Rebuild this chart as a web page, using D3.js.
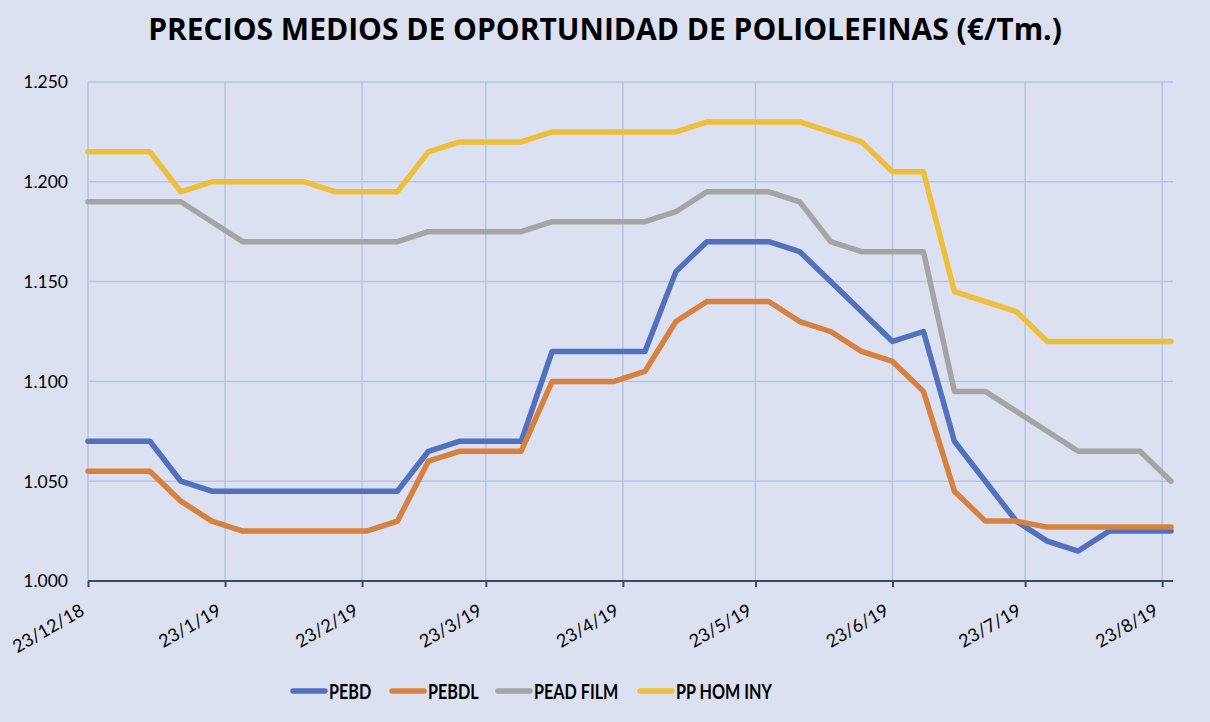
<!DOCTYPE html>
<html lang="es">
<head>
<meta charset="UTF-8">
<title>Precios medios de oportunidad de poliolefinas</title>
<script src="https://d3js.org/d3.v7.min.js"></script>
<style>
  html, body { margin: 0; padding: 0; background: #dce1f1; }
  svg { display: block; }
  text { font-family: Lato, "Open Sans", sans-serif; fill: #000; }
</style>
</head>
<body>
<svg id="chart" width="1210" height="722"></svg>
<script>
// weekly dates (dd/mm/yyyy)
const dates = [
  "23/12/2018", "30/12/2018", "06/01/2019", "13/01/2019", "20/01/2019", "27/01/2019",
  "03/02/2019", "10/02/2019", "17/02/2019", "24/02/2019", "03/03/2019", "10/03/2019",
  "17/03/2019", "24/03/2019", "31/03/2019", "07/04/2019", "14/04/2019", "21/04/2019",
  "28/04/2019", "05/05/2019", "12/05/2019", "19/05/2019", "26/05/2019", "02/06/2019",
  "09/06/2019", "16/06/2019", "23/06/2019", "30/06/2019", "07/07/2019", "14/07/2019",
  "21/07/2019", "28/07/2019", "04/08/2019", "11/08/2019", "18/08/2019", "25/08/2019"
];

const pebd = [
  1070, 1070, 1070, 1050, 1045, 1045, 1045, 1045, 1045, 1045, 1045, 1065,
  1070, 1070, 1070, 1115, 1115, 1115, 1115, 1155, 1170, 1170, 1170, 1165,
  1150, 1135, 1120, 1125, 1070, 1050, 1030, 1020, 1015, 1025, 1025, 1025
];
const pebdl = [
  1055, 1055, 1055, 1040, 1030, 1025, 1025, 1025, 1025, 1025, 1030, 1060,
  1065, 1065, 1065, 1100, 1100, 1100, 1105, 1130, 1140, 1140, 1140, 1130,
  1125, 1115, 1110, 1095, 1045, 1030, 1030, 1027, 1027, 1027, 1027, 1027
];
const peadFilm = [
  1190, 1190, 1190, 1190, 1180, 1170, 1170, 1170, 1170, 1170, 1170, 1175,
  1175, 1175, 1175, 1180, 1180, 1180, 1180, 1185, 1195, 1195, 1195, 1190,
  1170, 1165, 1165, 1165, 1095, 1095, 1085, 1075, 1065, 1065, 1065, 1050
];
const ppHomIny = [
  1215, 1215, 1215, 1195, 1200, 1200, 1200, 1200, 1195, 1195, 1195, 1215,
  1220, 1220, 1220, 1225, 1225, 1225, 1225, 1225, 1230, 1230, 1230, 1230,
  1225, 1220, 1205, 1205, 1145, 1140, 1135, 1120, 1120, 1120, 1120, 1120
];

const seriesNames = ["PEBD", "PEBDL", "PEAD FILM", "PP HOM INY"];
const seriesValues = [pebd, pebdl, peadFilm, ppHomIny];
const colors = ["#5171bf", "#d8813f", "#a5a5a5", "#eebf3b"];

const yTicks = [1000, 1050, 1100, 1150, 1200, 1250];
const xTickDates = ["23/12/2018", "23/01/2019", "23/02/2019", "23/03/2019", "23/04/2019",
  "23/05/2019", "23/06/2019", "23/07/2019", "23/08/2019"];

const title = "PRECIOS MEDIOS DE OPORTUNIDAD DE POLIOLEFINAS (€/Tm.)";

const parse = d3.timeParse("%d/%m/%Y");
const fmtX = d3.timeFormat("%-d/%-m/%y");
const fmtY = d3.format(".3f");

const svg = d3.select("#chart");
const margin = {top: 82, right: 39, bottom: 141, left: 88};
const W = +svg.attr("width"), H = +svg.attr("height");

const xDates = dates.map(parse);
const x = d3.scaleTime()
  .domain(d3.extent(xDates))
  .range([margin.left, W - margin.right]);
const y = d3.scaleLinear()
  .domain([1000, 1250])
  .range([H - margin.bottom, margin.top]);

svg.append("rect").attr("width", W).attr("height", H).attr("fill", "#dce1f1");

// horizontal grid
svg.append("g")
  .selectAll("line")
  .data(yTicks.slice(1))
  .join("line")
  .attr("x1", margin.left).attr("x2", W - margin.right + 2)
  .attr("y1", d => y(d)).attr("y2", d => y(d))
  .attr("stroke", "#b4c5e6").attr("stroke-width", 1.5);

// vertical grid
const tickDates = xTickDates.map(parse);
svg.append("g")
  .selectAll("line")
  .data(tickDates)
  .join("line")
  .attr("x1", d => x(d)).attr("x2", d => x(d))
  .attr("y1", margin.top).attr("y2", y(1000))
  .attr("stroke", "#b4c5e6").attr("stroke-width", 1.5);

// y labels
svg.append("g")
  .selectAll("text")
  .data(yTicks)
  .join("text")
  .attr("x", 68)
  .attr("y", d => y(d))
  .attr("dy", "0.36em")
  .attr("text-anchor", "end")
  .style("font-size", "17.5px")
  .text(d => fmtY(d / 1000));

// x axis
const xAxis = d3.axisBottom(x)
  .tickValues(tickDates)
  .tickSize(6)
  .tickFormat(fmtX);

const gx = svg.append("g")
  .attr("transform", `translate(0,${y(1000)})`)
  .call(xAxis);
gx.select(".domain").attr("stroke", "#3b4a6b").attr("stroke-width", 2.2)
  .attr("d", `M${margin.left},0H${W - margin.right + 2}`);
gx.selectAll(".tick line").attr("stroke", "#3b4a6b").attr("stroke-width", 2);
gx.selectAll(".tick text")
  .style("font-family", "Lato, sans-serif")
  .style("font-size", "18px")
  .attr("fill", "#000")
  .attr("text-anchor", "end")
  .attr("y", 0)
  .attr("dy", 0)
  .attr("transform", "translate(-3,33) rotate(-30)");

// lines
const line = d3.line()
  .x((d, i) => x(xDates[i]))
  .y(d => y(d));

svg.append("g")
  .selectAll("path")
  .data(seriesValues)
  .join("path")
  .attr("d", d => line(d))
  .attr("fill", "none")
  .attr("stroke", (d, i) => colors[i])
  .attr("stroke-width", 5.5)
  .attr("stroke-linejoin", "round")
  .attr("stroke-linecap", "round");

// title, sized to span the same width as the original
const t = svg.append("text")
  .attr("x", 605)
  .attr("y", 40)
  .attr("text-anchor", "middle")
  .style("font-family", "'Open Sans', Lato, sans-serif")
  .style("font-size", "26px")
  .style("font-weight", "bold")
  .text(title);
const tw = t.node().getComputedTextLength();
t.style("font-size", (26 * 914 / tw) + "px");

// legend
const legendX = [293, 392, 498, 640];
const legend = svg.append("g")
  .selectAll("g")
  .data(seriesNames)
  .join("g")
  .attr("transform", (d, i) => `translate(${legendX[i]},691)`);
legend.append("line")
  .attr("x1", 0).attr("x2", 32)
  .attr("stroke", (d, i) => colors[i])
  .attr("stroke-width", 5.5)
  .attr("stroke-linecap", "round");
legend.append("text")
  .attr("x", 36)
  .attr("dy", "0.36em")
  .style("font-size", "21px")
  .style("font-weight", "bold")
  .text(d => d)
  .each(function() {
    // condensed look of the original legend font
    const w = this.getComputedTextLength();
    d3.select(this)
      .attr("textLength", w * 0.77)
      .attr("lengthAdjust", "spacingAndGlyphs");
  });
</script>
</body>
</html>
